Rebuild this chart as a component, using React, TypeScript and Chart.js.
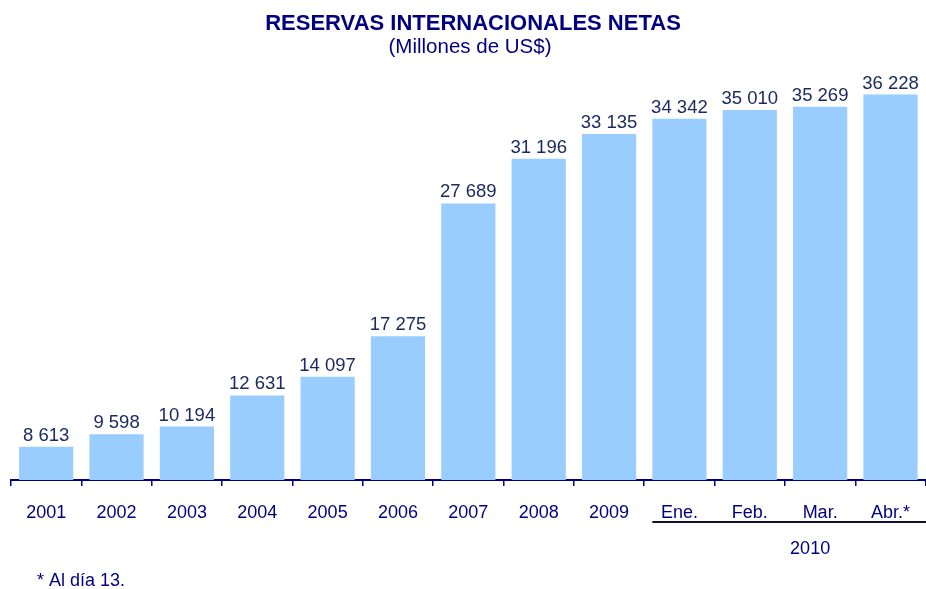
import React, { useEffect, useRef } from "react";
import { Chart, registerables } from "chart.js";

Chart.register(...registerables);

const categories = ["2001", "2002", "2003", "2004", "2005", "2006", "2007", "2008", "2009", "Ene.", "Feb.", "Mar.", "Abr.*"];
const reserves = [8613, 9598, 10194, 12631, 14097, 17275, 27689, 31196, 33135, 34342, 35010, 35269, 36228];
const groupLabel = "2010";
const groupStartIndex = 9;
const titleText = "RESERVAS INTERNACIONALES NETAS";
const subtitleText = "(Millones de US$)";
const footnoteText = "* Al día 13.";

const NAVY = "#000080";
const LABEL_NAVY = "#1B2A63";
const BAR = "#99CCFF";
const FONT = "'Liberation Sans', Arial, sans-serif";

const fmt = (v: number) => String(v).replace(/\B(?=(\d{3})+(?!\d))/g, " ");

const decorPlugin = {
  id: "decor",
  afterDatasetsDraw(chart: any) {
    const ctx = chart.ctx as CanvasRenderingContext2D;
    const meta = chart.getDatasetMeta(0);
    ctx.save();
    ctx.fillStyle = LABEL_NAVY;
    ctx.font = `18.5px ${FONT}`;
    ctx.textAlign = "center";
    ctx.textBaseline = "alphabetic";
    meta.data.forEach((bar: any, i: number) => {
      ctx.fillText(fmt(reserves[i]), bar.x, bar.y - 6);
    });
    ctx.restore();
  },
  afterDraw(chart: any) {
    const ctx = chart.ctx as CanvasRenderingContext2D;
    const x = chart.scales.x;
    ctx.save();
    ctx.fillStyle = NAVY;
    ctx.textAlign = "center";
    ctx.textBaseline = "alphabetic";
    ctx.font = `bold 22px ${FONT}`;
    ctx.fillText(titleText, 473, 30);
    ctx.font = `20.5px ${FONT}`;
    ctx.fillText(subtitleText, 470, 53);

    // group underline and label
    const meta = chart.getDatasetMeta(0);
    const firstBar: any = meta.data[groupStartIndex];
    const startX = firstBar.x - firstBar.width / 2;
    const endX = chart.width;
    ctx.strokeStyle = "#111133";
    ctx.lineWidth = 2;
    ctx.beginPath();
    ctx.moveTo(startX, 522);
    ctx.lineTo(endX, 522);
    ctx.stroke();
    const gx = x.getPixelForValue(groupStartIndex + 2) - 10;
    ctx.font = `18px ${FONT}`;
    ctx.fillText(groupLabel, gx, 554);

    ctx.textAlign = "left";
    ctx.font = `18px ${FONT}`;
    ctx.fillText(footnoteText, 37, 586);
    ctx.restore();
  },
};

export default function App() {
  const ref = useRef<HTMLCanvasElement>(null);
  useEffect(() => {
    if (!ref.current) return;
    const chart = new Chart(ref.current, {
      type: "bar",
      data: {
        labels: categories,
        datasets: [
          {
            data: reserves,
            backgroundColor: BAR,
            borderWidth: 0,
            categoryPercentage: 1,
            barPercentage: 0.77,
          },
        ],
      },
      options: {
        animation: false,
        responsive: false,
        devicePixelRatio: 1,
        layout: { padding: { left: 11, right: 0, top: 72, bottom: 49 } },
        plugins: {
          legend: { display: false },
          tooltip: { enabled: false },
          title: { display: false },
        },
        scales: {
          x: {
            offset: true,
            grid: {
              display: true,
              offset: true,
              drawOnChartArea: false,
              drawTicks: true,
              tickLength: 6,
              color: NAVY,
              lineWidth: 1.5,
            },
            border: { display: true, color: NAVY, width: 2 },
            ticks: {
              color: NAVY,
              font: { family: FONT, size: 18 },
              padding: 16,
              maxRotation: 0,
              autoSkip: false,
            },
            afterFit: (scale: any) => {
              scale.height = 60;
            },
          },
          y: {
            display: false,
            min: 6000,
            max: 38000,
          },
        },
      },
      plugins: [decorPlugin],
    });
    return () => chart.destroy();
  }, []);
  return (
    <div style={{ position: "fixed", left: 0, top: 0, width: 926, height: 589, background: "#fff" }}>
      <canvas ref={ref} width={926} height={589} style={{ width: 926, height: 589 }} />
    </div>
  );
}
